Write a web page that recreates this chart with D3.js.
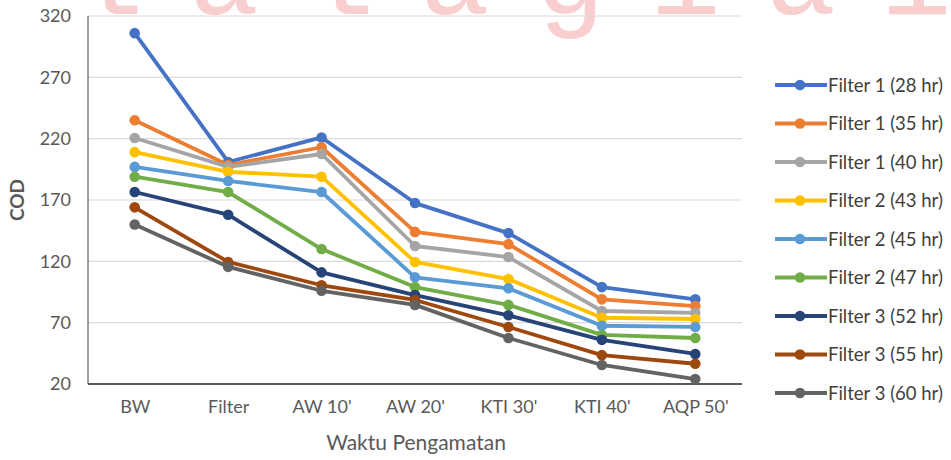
<!DOCTYPE html>
<html><head><meta charset="utf-8">
<script src="https://cdn.jsdelivr.net/npm/d3@7"></script>
<style>
html,body{margin:0;padding:0;background:#fff;}
svg{display:block;}
text{font-family:Lato,"Open Sans",sans-serif;}
</style></head>
<body><svg id="c" width="951" height="460"></svg>
<script>
const categories = ["BW","Filter","AW 10'","AW 20'","KTI 30'","KTI 40'","AQP 50'"];
const seriesNames = ["Filter 1 (28 hr)","Filter 1 (35 hr)","Filter 1 (40 hr)","Filter 2 (43 hr)","Filter 2 (45 hr)","Filter 2 (47 hr)","Filter 3 (52 hr)","Filter 3 (55 hr)","Filter 3 (60 hr)"];
const s1 = [306, 201, 221, 167.5, 143, 99, 89];
const s2 = [235, 198.5, 213, 144, 134, 89, 83.5];
const s3 = [220.5, 197, 207.5, 132.5, 123.5, 79.5, 78];
const s4 = [209, 193, 189, 119.5, 105.5, 74, 73];
const s5 = [197, 185.5, 176.5, 107, 98, 67.5, 66.5];
const s6 = [189, 176.5, 130, 99, 84.5, 60, 57.5];
const s7 = [176.5, 158, 111, 92.5, 76, 56, 44.5];
const s8 = [164, 119.5, 100.5, 88.5, 66.5, 43.5, 36.5];
const s9 = [150, 115.5, 96, 84.5, 57.5, 35.5, 24];
const seriesValues = [s1,s2,s3,s4,s5,s6,s7,s8,s9];
const colors = ["#4472C4","#ED7D31","#A5A5A5","#FFC000","#5B9BD5","#70AD47","#264478","#9E480E","#636363"];
const yTicks = [20,70,120,170,220,270,320];
const watermark = "lalagiai";

const svg = d3.select("#c");
const L = 88, R = 742, T = 16, B = 384;
const x = d3.scalePoint().domain(categories).range([L, R]).padding(0.5);
const y = d3.scaleLinear().domain([20, 320]).range([B, T]);

// watermark (cut off at the top edge, as in the reference)
svg.append("text").attr("x", 73).attr("y", 14)
  .style("font-family", "'Liberation Mono',monospace").style("font-size", "118px")
  .style("letter-spacing", "44.6px")
  .attr("fill", "#f7b4b6").attr("opacity", 0.65).text(watermark);

// gridlines
svg.append("g").selectAll("line").data(yTicks.slice(1)).join("line")
  .attr("x1", L).attr("x2", R).attr("y1", d => y(d)).attr("y2", d => y(d))
  .attr("stroke", "#d9d9d9").attr("stroke-width", 1.2);

// y axis labels
const ya = svg.append("g").attr("transform", `translate(${L},0)`)
  .call(d3.axisLeft(y).tickValues(yTicks).tickSize(0).tickPadding(17));
ya.select(".domain").remove();
ya.selectAll("text").style("font-family","Lato,sans-serif").style("font-size","18px").attr("fill","#595959");

// x axis labels
const xa = svg.append("g").attr("transform", `translate(0,${B})`)
  .call(d3.axisBottom(x).tickSize(0).tickPadding(16));
xa.select(".domain").remove();
xa.selectAll("text").style("font-family","Lato,sans-serif").style("font-size","18px").attr("fill","#595959");

// axis lines
svg.append("line").attr("x1", L).attr("x2", L).attr("y1", T).attr("y2", B)
  .attr("stroke", "#7f7f7f").attr("stroke-width", 1.5);
svg.append("line").attr("x1", L).attr("x2", R).attr("y1", B).attr("y2", B)
  .attr("stroke", "#595959").attr("stroke-width", 2);

// axis titles
svg.append("text").attr("x", 416).attr("y", 450).attr("text-anchor","middle")
  .style("font-size","21px").attr("fill","#595959").text("Waktu Pengamatan");
svg.append("text").attr("transform","translate(24,200) rotate(-90)").attr("text-anchor","middle")
  .style("font-size","19px").style("font-weight","bold").attr("fill","#595959").text("COD");

// series
const line = d3.line().x((d,i) => x(categories[i])).y(d => y(d));
seriesValues.forEach((vals, k) => {
  const g = svg.append("g");
  g.append("path").datum(vals).attr("d", line).attr("fill","none")
    .attr("stroke", colors[k]).attr("stroke-width", 3.8).attr("stroke-linejoin","round");
  g.selectAll("circle").data(vals).join("circle")
    .attr("cx", (d,i) => x(categories[i])).attr("cy", d => y(d)).attr("r", 5.3)
    .attr("fill", colors[k]);
});

// legend
const lg = svg.append("g");
seriesNames.forEach((name, k) => {
  const yy = 85 + k * 38.5;
  lg.append("line").attr("x1", 775).attr("x2", 827).attr("y1", yy).attr("y2", yy)
    .attr("stroke", colors[k]).attr("stroke-width", 3.8);
  lg.append("circle").attr("cx", 800).attr("cy", yy).attr("r", 5.3).attr("fill", colors[k]);
  lg.append("text").attr("x", 828).attr("y", yy + 6.5)
    .style("font-size","18.5px").attr("fill","#404040").text(name);
});
</script></body></html>
